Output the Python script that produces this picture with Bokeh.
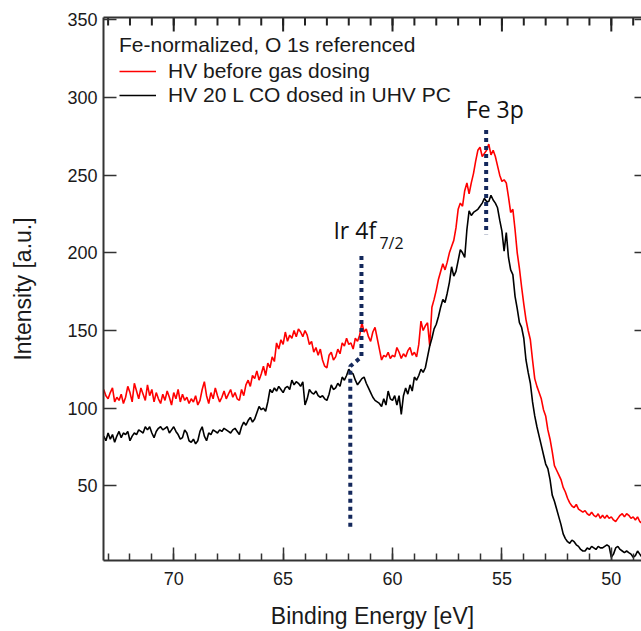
import numpy as np
from bokeh.plotting import figure
from bokeh.models import Range1d, LinearAxis, Legend, LegendItem, Label, FixedTicker
from bokeh.embed import file_html
from bokeh.resources import INLINE

# ---- data -------------------------------------------------------------
# binding energy grid (eV), 0.1 eV acquisition step, 73.2 -> 48.5
energy = np.round(np.arange(73.2, 48.45, -0.1), 1)

hv_before = [
    112, 108, 106, 110, 113, 104, 107, 105, 109, 103,
    107, 114, 110, 104, 116, 111, 106, 113, 109, 105,
    115, 108, 112, 104, 110, 106, 103, 109, 105, 111,
    107, 102, 110, 106, 112, 104, 109, 105, 107, 103,
    106, 104, 108, 102, 105, 112, 117, 108, 103, 110,
    106, 113, 108, 104, 107, 111, 106, 109, 112, 107,
    110, 106, 105, 112, 108, 115, 118, 114, 121, 119,
    124, 118, 122, 127, 121, 129, 126, 133, 130, 142,
    138, 144, 141, 149, 143, 147, 145, 150, 146, 151,
    149, 146, 150, 147, 141, 143, 136, 139, 134, 138,
    131, 127, 126, 134, 136, 131, 133, 138, 135, 142,
    140, 145, 141, 142, 138, 145, 143, 147, 155, 149,
    151, 146, 143, 149, 152, 145, 138, 131, 134, 133,
    136, 132, 134, 133, 139, 136, 132, 135, 133, 137,
    139, 134, 136, 133, 141, 156, 150, 153, 155, 140,
    165, 170, 176, 183, 188, 193, 189, 194, 200, 204,
    208, 216, 228, 232, 230, 240, 245, 238, 245, 251,
    259, 266, 268, 262, 264, 266, 270, 263, 266, 262,
    256, 250, 246, 247, 245, 236, 226, 228, 215, 200,
    190, 178, 167, 157, 150, 144, 131, 119, 114, 110,
    106, 99, 95, 86, 80, 72, 63, 60, 57, 54,
    49, 46, 42, 39, 37, 36, 38, 35, 34, 33,
    34, 32, 31, 33, 31, 30, 32, 29, 31, 29,
    31, 29, 30, 28, 27, 29, 31, 32, 30, 32,
    31, 29, 30, 28, 30, 27, 26, 30,
]

hv_co_dosed = [
    82, 79, 84, 80, 83, 78, 82, 85, 81, 84,
    83, 85, 79, 82, 84, 83, 86, 85, 84, 88,
    86, 88, 84, 81, 85, 87, 88, 86, 87, 88,
    84, 86, 88, 85, 83, 80, 81, 86, 84, 79,
    78, 80, 77, 79, 85, 88, 82, 79, 84, 83,
    86, 85, 84, 86, 85, 87, 86, 85, 84, 86,
    87, 85, 83, 88, 91, 89, 92, 94, 91, 93,
    97, 101, 99, 100, 98, 104, 112, 110, 113, 111,
    114, 112, 110, 113, 114, 112, 118, 115, 117, 116,
    114, 117, 102, 106, 112, 110, 109, 111, 108, 107,
    108, 106, 105, 109, 115, 112, 113, 116, 114, 120,
    118, 121, 125, 123, 122, 118, 115, 117, 119, 120,
    116, 113, 110, 107, 105, 104, 103, 101, 106, 102,
    111, 106, 105, 108, 102, 108, 96, 108, 113, 109,
    115, 111, 120, 118, 121, 125, 123, 126, 133, 140,
    145, 151, 154, 159, 165, 170, 168, 174, 181, 191,
    185, 188, 195, 202, 200, 197, 215, 227, 224, 226,
    227, 228, 230, 232, 235, 233, 233, 237, 234, 232,
    229, 221, 214, 201, 213, 197, 189, 186, 172, 164,
    155, 152, 145, 131, 123, 116, 104, 95, 88, 82,
    76, 70, 64, 61, 54, 44, 40, 35, 30, 25,
    19, 16, 14, 13, 15, 14, 12, 11, 9, 8,
    8, 10, 9, 11, 10, 9, 11, 10, 10, 11,
    12, 11, 4, 6, 10, 11, 9, 8, 7, 8,
    7, 6, 4, 5, 8, 6, 4, 3,
]

x_major_ticks = [70, 65, 60, 55, 50]
x_minor_ticks = list(range(49, 74))
y_major_ticks = [50, 100, 150, 200, 250, 300, 350]

# peak marker lines (dotted)
fe3p_marker_x = [55.72, 55.72]
fe3p_marker_y = [279, 212]
ir4f_marker_x = [61.42, 61.42, 61.93, 61.93]
ir4f_marker_y = [198, 133, 127, 23]

legend_title = "Fe-normalized, O 1s referenced"
label_before = "HV before gas dosing"
label_dosed = "HV 20 L CO dosed in UHV PC"

# ---- figure -----------------------------------------------------------
AX = "#333333"
TICK_FONT = "Liberation Sans"
X_START, X_END = 73.21, 48.62
Y_START, Y_END = 1.9, 351.5
BORDER_TOP, BORDER_BOTTOM = 17, 69
HEIGHT = 631
FRAME_H = HEIGHT - BORDER_TOP - BORDER_BOTTOM
Y_PER_PX = (Y_END - Y_START) / FRAME_H

p = figure(width=641, height=HEIGHT,
           x_range=Range1d(X_START, X_END), y_range=Range1d(Y_START, Y_END),
           output_backend="svg", toolbar_location=None,
           min_border_left=103, min_border_top=BORDER_TOP,
           min_border_bottom=BORDER_BOTTOM, min_border_right=0)
p.title.visible = False
p.grid.visible = False
p.outline_line_color = None
p.background_fill_color = "white"
p.border_fill_color = "white"


def style_axis(ax, show_labels=True, line=True):
    ax.axis_line_color = AX if line else None
    ax.axis_line_width = 2
    ax.major_tick_line_color = AX
    ax.major_tick_line_width = 1.5
    ax.minor_tick_line_color = AX
    ax.minor_tick_line_width = 1.5
    ax.major_tick_out = 0
    ax.major_tick_in = 13
    ax.minor_tick_out = 0
    ax.minor_tick_in = 7
    if show_labels:
        ax.major_label_text_font = TICK_FONT
        ax.major_label_text_font_size = "18px"
        ax.major_label_text_color = "#1a1a1a"
    else:
        ax.major_label_text_font_size = "1px"
        ax.major_label_text_color = None
        ax.major_label_standoff = 0


xa = p.xaxis[0]
xa.ticker = FixedTicker(ticks=x_major_ticks, minor_ticks=x_minor_ticks)
style_axis(xa)
xa.major_label_standoff = 11
xa.axis_label = "Binding Energy [eV]"
xa.axis_label_text_font = TICK_FONT
xa.axis_label_text_font_size = "23px"
xa.axis_label_text_font_style = "normal"
xa.axis_label_text_color = "#1a1a1a"
xa.axis_label_standoff = 15

ya = p.yaxis[0]
ya.ticker = FixedTicker(ticks=y_major_ticks, minor_ticks=[])
style_axis(ya)
ya.major_label_standoff = 6
ya.axis_label = "Intensity [a.u.]"
ya.axis_label_text_font = TICK_FONT
ya.axis_label_text_font_size = "23px"
ya.axis_label_text_font_style = "normal"
ya.axis_label_text_color = "#1a1a1a"
ya.axis_label_standoff = 28

# top frame edge (line only); its inward ticks are drawn as segments below
top = LinearAxis(ticker=FixedTicker(ticks=x_major_ticks, minor_ticks=x_minor_ticks))
style_axis(top, show_labels=False)
top.major_tick_in = 0
top.minor_tick_in = 0
p.add_layout(top, "above")

right = LinearAxis(ticker=FixedTicker(ticks=y_major_ticks, minor_ticks=[]))
style_axis(right, show_labels=False, line=False)
right.major_tick_in = 7
p.add_layout(right, "right")

# inward ticks hanging from the top frame edge, at the x tick positions
p.segment(x0=x_minor_ticks, y0=[Y_END] * len(x_minor_ticks),
          x1=x_minor_ticks, y1=[Y_END - 8 * Y_PER_PX] * len(x_minor_ticks),
          line_color="#222222", line_width=2)
p.segment(x0=x_major_ticks, y0=[Y_END] * len(x_major_ticks),
          x1=x_major_ticks, y1=[Y_END - 14 * Y_PER_PX] * len(x_major_ticks),
          line_color="#222222", line_width=2)

# ---- data lines -------------------------------------------------------
r_red = p.line(energy, hv_before, line_color="#ff0000", line_width=1.6)
r_black = p.line(energy, hv_co_dosed, line_color="#000000", line_width=1.6)

p.line(ir4f_marker_x, ir4f_marker_y, line_color="#14285c", line_width=4,
       line_dash="4 4")
p.line(fe3p_marker_x, fe3p_marker_y, line_color="#14285c", line_width=4,
       line_dash="4 4")

# ---- annotations ------------------------------------------------------
p.add_layout(Label(x=56.65, y=292.6, text="Fe 3p", text_font="Open Sans",
                   text_font_size="23px", text_baseline="alphabetic",
                   text_color="#111111"))
p.add_layout(Label(x=62.7, y=214.8, text="Ir 4f", text_font="Open Sans",
                   text_font_size="23px", text_baseline="alphabetic",
                   text_color="#111111"))
p.add_layout(Label(x=60.6, y=206.6, text="7/2", text_font="Open Sans",
                   text_font_size="16px", text_baseline="alphabetic",
                   text_color="#111111"))

legend = Legend(items=[LegendItem(label=label_before, renderers=[r_red]),
                       LegendItem(label=label_dosed, renderers=[r_black])],
                location="top_left", title=legend_title)
legend.title_text_font = TICK_FONT
legend.title_text_font_size = "21px"
legend.title_text_font_style = "normal"
legend.title_text_color = "#1a1a1a"
legend.title_standoff = 2
legend.label_text_font = TICK_FONT
legend.label_text_font_size = "21px"
legend.label_text_color = "#1a1a1a"
legend.glyph_width = 37
legend.glyph_height = 22
legend.label_height = 22
legend.label_standoff = 12
legend.spacing = 0
legend.padding = 8
legend.margin = 16
legend.border_line_color = None
legend.background_fill_alpha = 0
p.add_layout(legend)

open("out.html", "w").write(file_html(p, INLINE))
